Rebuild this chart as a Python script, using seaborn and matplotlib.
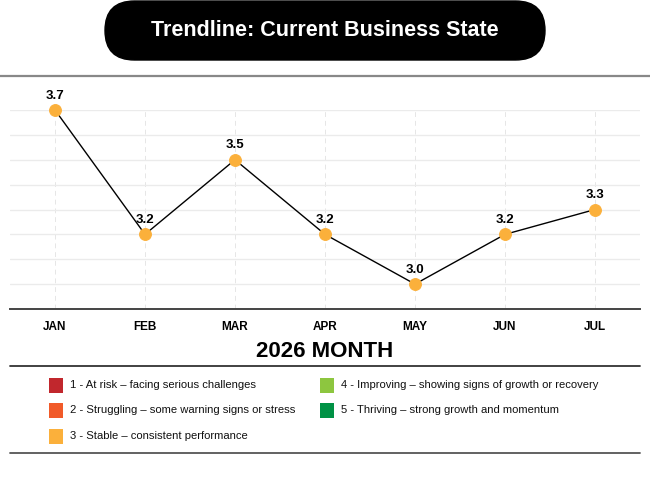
import matplotlib
matplotlib.use("Agg")
import matplotlib.pyplot as plt
from matplotlib.patches import FancyBboxPatch, Rectangle
import seaborn as sns
import pandas as pd

# chart data
months = ["JAN", "FEB", "MAR", "APR", "MAY", "JUN", "JUL"]
scores = [3.7, 3.2, 3.5, 3.2, 3.0, 3.2, 3.3]
legend_labels = ["1 - At risk \u2013 facing serious challenges",
                 "2 - Struggling \u2013 some warning signs or stress",
                 "3 - Stable \u2013 consistent performance",
                 "4 - Improving \u2013 showing signs of growth or recovery",
                 "5 - Thriving \u2013 strong growth and momentum"]
legend_colors = ["#C1272D", "#F15A29", "#FBB03B", "#8DC63F", "#009245"]

title = "Trendline: Current Business State"
xlabel = "2026 MONTH"

df = pd.DataFrame({"month": months, "score": scores, "pos": range(len(months))})

sns.set_theme(style="white")
plt.rcParams["font.family"] = ["Liberation Sans", "DejaVu Sans"]
plt.rcParams["text.color"] = "black"
plt.rcParams["xtick.color"] = "black"
plt.rcParams["axes.labelcolor"] = "black"

W, H = 650, 482
fig = plt.figure(figsize=(W / 100, H / 100), dpi=100)

# overlay in pixel coordinates for the decorations
bg = fig.add_axes([0, 0, 1, 1])
bg.set_xlim(0, W)
bg.set_ylim(H, 0)
bg.axis("off")

pill = FancyBboxPatch((75 + 30, 1), 500 - 60, 59,
                      boxstyle="round,pad=0,rounding_size=29.5",
                      facecolor="black", edgecolor="black")
bg.add_patch(pill)
bg.text(325, 31, title, color="white", fontsize=15.5, fontweight="bold",
        ha="center", va="center")
bg.plot([0, W], [76, 76], color="#888888", lw=1.6)
bg.plot([10, 640], [366, 366], color="#333333", lw=1.3)
bg.plot([10, 640], [453, 453], color="#555555", lw=1.3)

# legend
col_x = [49, 320]
row_y = [385, 410, 436]
for i, (lab, c) in enumerate(zip(legend_labels, legend_colors)):
    cx = col_x[0] if i < 3 else col_x[1]
    cy = row_y[i] if i < 3 else row_y[i - 3]
    bg.add_patch(Rectangle((cx, cy - 7.5), 14, 15, facecolor=c, edgecolor="none"))
    bg.text(cx + 21, cy, lab, fontsize=8.1, color="#111111", ha="left", va="center")

# main chart
ax = fig.add_axes([10 / W, (H - 309) / H, 630 / W, (309 - 110) / H])
ax.patch.set_alpha(0)
sns.lineplot(data=df, x="pos", y="score", ax=ax, color="black", lw=1,
             marker="o", markersize=8.5, markerfacecolor="#FBB03B",
             markeredgecolor="#FBB03B", clip_on=False, zorder=3)
for p, v in zip(df["pos"], df["score"]):
    ax.annotate(f"{v:.1f}", (p, v), xytext=(0, 6), textcoords="offset points",
                ha="center", va="bottom", fontsize=9.5, fontweight="bold",
                color="black", annotation_clip=False, zorder=4)

ax.set_xlim(-0.5, 6.5)
ax.set_ylim(2.9, 3.7)
ax.set_yticks([3.0, 3.1, 3.2, 3.3, 3.4, 3.5, 3.6, 3.7])
ax.set_yticklabels([])
ax.set_xticks(range(len(months)))
ax.set_xticklabels(months, fontsize=8.5, fontweight="bold")
ax.tick_params(axis="x", length=0, pad=8.5)
ax.tick_params(axis="y", length=0)
ax.grid(axis="y", color="#ebebeb", lw=1)
ax.grid(axis="x", color="#e6e6e6", lw=0.7, ls=(0, (5, 4)))
for s in ["top", "left", "right"]:
    ax.spines[s].set_visible(False)
ax.spines["bottom"].set_color("#444444")
ax.spines["bottom"].set_linewidth(1.4)
ax.set_xlabel(xlabel, fontsize=16, fontweight="bold", labelpad=6)
ax.set_ylabel("")

fig.savefig("out.png", dpi=100)
